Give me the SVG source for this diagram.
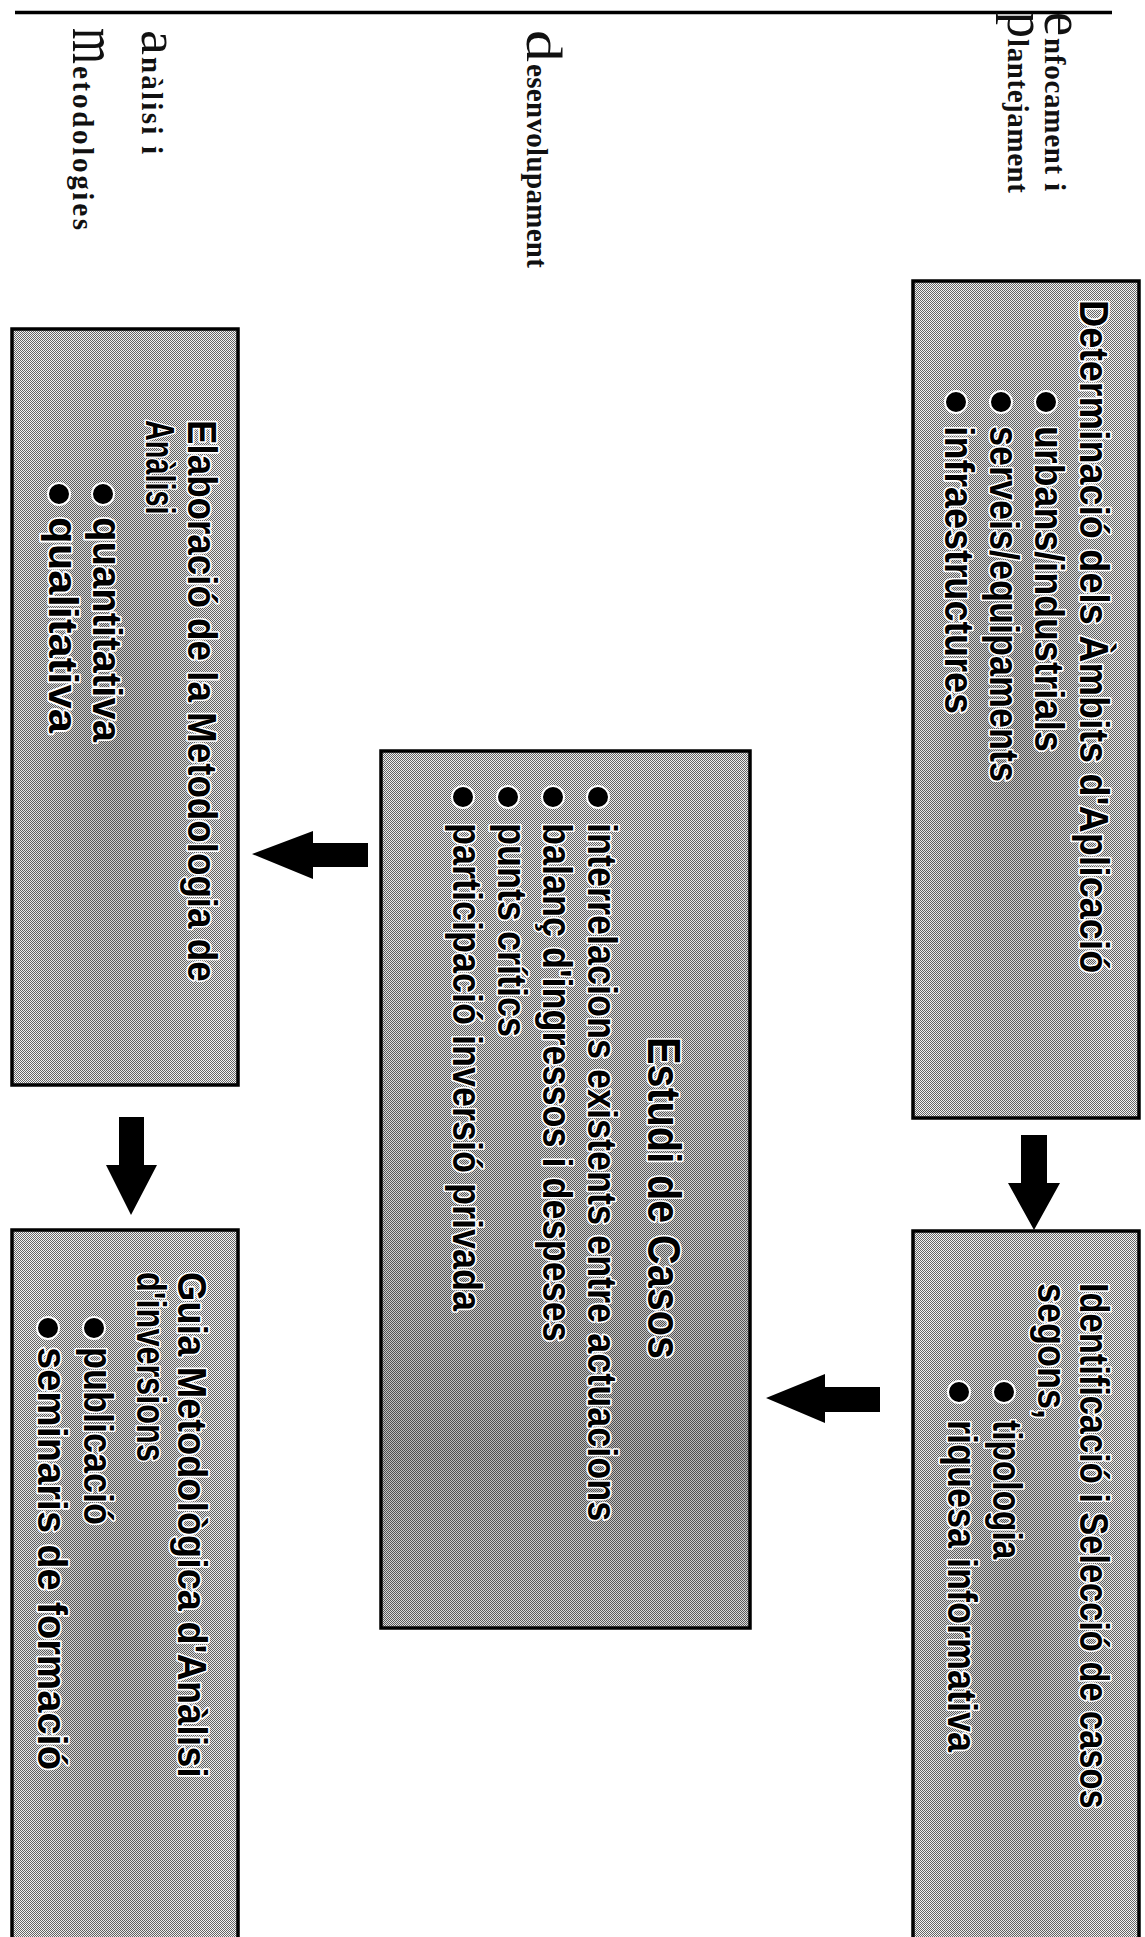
<svg xmlns="http://www.w3.org/2000/svg" width="1145" height="1937" viewBox="0 0 1145 1937">
<defs>
<pattern id="ht" width="2" height="2" patternUnits="userSpaceOnUse">
<rect width="2" height="2" fill="#f4f4f4"/>
<rect x="0" y="0" width="1" height="1" fill="#666"/>
<rect x="1" y="1" width="1" height="1" fill="#666"/>
</pattern>
<radialGradient id="shade" cx="0.45" cy="0.55" r="0.6">
<stop offset="0" stop-color="#000" stop-opacity="0.2"/>
<stop offset="0.6" stop-color="#000" stop-opacity="0.08"/>
<stop offset="1" stop-color="#000" stop-opacity="0"/>
</radialGradient>
<linearGradient id="shadeC" x1="0" y1="0" x2="0" y2="1">
<stop offset="0" stop-color="#000" stop-opacity="0.02"/>
<stop offset="0.55" stop-color="#000" stop-opacity="0.14"/>
<stop offset="0.8" stop-color="#000" stop-opacity="0.24"/>
<stop offset="1" stop-color="#000" stop-opacity="0.1"/>
</linearGradient>
<style>
.box { fill: url(#ht); stroke: #000; stroke-width: 3.5; }
.sh { fill: url(#shade); stroke: none; }
.shc { fill: url(#shadeC); stroke: none; }
.t { font-family: "Liberation Sans", Arial, sans-serif; font-weight: bold; font-size: 40px; fill: #000; stroke: #fff; stroke-width: 3.5; paint-order: stroke; stroke-linejoin: round; }
.h { font-size: 46px; }
.b { fill: #000; stroke: #fff; stroke-width: 2; }
.lbl { font-family: "Liberation Serif", "Times New Roman", serif; font-weight: bold; font-size: 29px; fill: #111; }
.ini { font-family: "Liberation Serif", "Times New Roman", serif; font-weight: normal; fill: #111; }
.arr { fill: #000; stroke: none; }
</style>
</defs>
<rect width="1145" height="1937" fill="#fff"/>
<line x1="15" y1="12.5" x2="1112" y2="12.5" stroke="#000" stroke-width="3.5"/>

<g id="labels">
<text class="ini" font-size="56" transform="translate(1045,12) rotate(90)" textLength="24" lengthAdjust="spacingAndGlyphs">e</text>
<text class="lbl" transform="translate(1045,38) rotate(90)" textLength="153" lengthAdjust="spacing">nfocament i</text>
<text class="ini" font-size="54" transform="translate(1008,12) rotate(90)" textLength="26" lengthAdjust="spacingAndGlyphs">p</text>
<text class="lbl" transform="translate(1008,39) rotate(90)" textLength="154" lengthAdjust="spacing">lantejament</text>
<text class="ini" font-size="50" transform="translate(527,30) rotate(90)" textLength="32" lengthAdjust="spacingAndGlyphs">d</text>
<text class="lbl" transform="translate(527,64) rotate(90)" textLength="204" lengthAdjust="spacing">esenvolupament</text>
<text class="ini" font-size="52" transform="translate(142,30) rotate(90)" textLength="25" lengthAdjust="spacingAndGlyphs">a</text>
<text class="lbl" transform="translate(142,57) rotate(90)" textLength="97" lengthAdjust="spacing">nàlisi i</text>
<text class="ini" font-size="66" transform="translate(73,28) rotate(90)" textLength="36" lengthAdjust="spacingAndGlyphs">m</text>
<text class="lbl" transform="translate(73,66) rotate(90)" textLength="164" lengthAdjust="spacing">etodologies</text>
</g>

<g id="node-ambits">
<rect class="box" x="913" y="281" width="226" height="837"/>
<rect class="sh" x="915" y="283" width="222" height="833"/>
<text class="t" transform="translate(1080,300) rotate(90) scale(0.9,1)" textLength="748" lengthAdjust="spacingAndGlyphs">Determinació dels Àmbits d'Aplicació</text>
<circle class="b" cx="1046" cy="402" r="11"/>
<text class="t" transform="translate(1035,426) rotate(90) scale(0.9,1)" textLength="362" lengthAdjust="spacingAndGlyphs">urbans/industrials</text>
<circle class="b" cx="1001" cy="402" r="11"/>
<text class="t" transform="translate(990,426) rotate(90) scale(0.9,1)">serveis/equipaments</text>
<circle class="b" cx="956" cy="402" r="11"/>
<text class="t" transform="translate(945,426) rotate(90) scale(0.9,1)" textLength="320" lengthAdjust="spacingAndGlyphs">infraestructures</text>
</g>

<g id="node-seleccio">
<rect class="box" x="913" y="1231" width="226" height="720"/>
<rect class="sh" x="915" y="1233" width="222" height="704"/>
<text class="t" transform="translate(1080,1283) rotate(90) scale(0.9,1)" textLength="584" lengthAdjust="spacingAndGlyphs">Identificació i Selecció de casos</text>
<text class="t" transform="translate(1038,1283) rotate(90) scale(0.9,1)">segons,</text>
<circle class="b" cx="1004" cy="1392" r="11"/>
<text class="t" transform="translate(993,1420) rotate(90) scale(0.9,1)" textLength="155" lengthAdjust="spacingAndGlyphs">tipologia</text>
<circle class="b" cx="959" cy="1392" r="11"/>
<text class="t" transform="translate(948,1420) rotate(90) scale(0.9,1)">riquesa informativa</text>
</g>

<g id="node-estudi">
<rect class="box" x="381" y="751" width="369" height="877"/>
<rect class="shc" x="383" y="753" width="365" height="873"/>
<text class="t h" transform="translate(648,1037) rotate(90) scale(0.9,1)">Estudi de Casos</text>
<circle class="b" cx="598" cy="797" r="11"/>
<text class="t" transform="translate(588,823) rotate(90) scale(0.9,1)">interrelacions existents entre actuacions</text>
<circle class="b" cx="553" cy="797" r="11"/>
<text class="t" transform="translate(543,823) rotate(90) scale(0.9,1)">balanç d'ingressos i despeses</text>
<circle class="b" cx="508" cy="797" r="11"/>
<text class="t" transform="translate(498,823) rotate(90) scale(0.9,1)">punts crítics</text>
<circle class="b" cx="463" cy="797" r="11"/>
<text class="t" transform="translate(453,823) rotate(90) scale(0.9,1)">participació inversió privada</text>
</g>

<g id="node-elaboracio">
<rect class="box" x="12" y="329" width="226" height="756"/>
<rect class="sh" x="14" y="331" width="222" height="752"/>
<text class="t" transform="translate(188,420) rotate(90) scale(0.9,1)" textLength="624" lengthAdjust="spacingAndGlyphs">Elaboració de la Metodologia de</text>
<text class="t" transform="translate(146,420) rotate(90) scale(0.9,1)" textLength="105" lengthAdjust="spacingAndGlyphs">Anàlisi</text>
<circle class="b" cx="103" cy="494" r="11"/>
<text class="t" transform="translate(93,517) rotate(90) scale(0.9,1)" textLength="250" lengthAdjust="spacingAndGlyphs">quantitativa</text>
<circle class="b" cx="59" cy="494" r="11"/>
<text class="t" transform="translate(49,517) rotate(90) scale(0.9,1)" textLength="240" lengthAdjust="spacingAndGlyphs">qualitativa</text>
</g>

<g id="node-guia">
<rect class="box" x="12" y="1230" width="226" height="720"/>
<rect class="sh" x="14" y="1232" width="222" height="705"/>
<text class="t" transform="translate(178,1272) rotate(90) scale(0.9,1)" textLength="562" lengthAdjust="spacingAndGlyphs">Guia Metodològica d'Anàlisi</text>
<text class="t" transform="translate(137,1272) rotate(90) scale(0.9,1)" textLength="211" lengthAdjust="spacingAndGlyphs">d'inversions</text>
<circle class="b" cx="94" cy="1328" r="11"/>
<text class="t" transform="translate(84,1347) rotate(90) scale(0.9,1)">publicació</text>
<circle class="b" cx="48" cy="1328" r="11"/>
<text class="t" transform="translate(38,1347) rotate(90) scale(0.9,1)" textLength="470" lengthAdjust="spacingAndGlyphs">seminaris de formació</text>
</g>

<g id="connectors">
<polygon class="arr" points="1021,1135 1047,1135 1047,1183 1060,1183 1034,1230 1008,1183 1021,1183"/>
<polygon class="arr" points="880,1387 880,1412 825,1412 825,1423 766,1398 825,1374 825,1387"/>
<polygon class="arr" points="368,843 368,867 313,867 313,879 252,854 313,831 313,843"/>
<polygon class="arr" points="119,1117 144,1117 144,1165 157,1165 131,1215 106,1165 119,1165"/>
</g>
</svg>
